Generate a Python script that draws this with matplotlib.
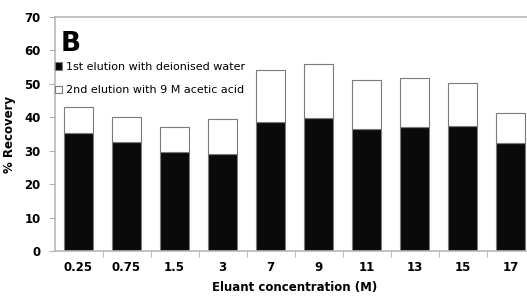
import matplotlib.pyplot as plt
import numpy as np

concentrations = ["0.25", "0.75", "1.5", "3", "7", "9", "11", "13", "15", "17"]
first_elution = [35.2, 32.7, 29.7, 28.9, 38.7, 39.7, 36.5, 37.2, 37.4, 32.2]   # deionised water
total_recovery = [43.0, 40.0, 37.0, 39.4, 54.0, 55.8, 51.3, 51.8, 50.4, 41.2]
second_elution = [t - f for t, f in zip(total_recovery, first_elution)]       # 9 M acetic acid

plt.rcParams['font.family'] = ['DejaVu Sans']

fig = plt.figure(figsize=(5.27, 2.98), dpi=100)
# axes run a little past the right edge, as in the cropped original
ax = fig.add_axes([54.5 / 527, 47 / 298, 480 / 527, 234 / 298])

x = np.arange(len(concentrations))
ax.bar(x, first_elution, width=0.6, color='#0a0a0a', edgecolor='#7a7a7a', linewidth=0.8,
       label='1st elution with deionised water')
ax.bar(x, second_elution, width=0.6, bottom=first_elution, color='white', edgecolor='#7a7a7a',
       linewidth=0.8, label='2nd elution with 9 M acetic acid')

ax.set_xlim(-0.5, len(concentrations) - 0.5)
ax.set_ylim(0, 70)
ax.set_yticks(range(0, 71, 10))
ax.set_xticks(x)
ax.set_xticklabels(concentrations, fontweight='bold', fontsize=8.5)
ax.set_xticks(np.arange(0.5, len(concentrations) - 0.5, 1), minor=True)
ax.tick_params(axis='x', which='major', length=0, pad=7)
ax.tick_params(axis='x', which='minor', length=4, color='#b0b0b0', direction='out')
ax.tick_params(axis='y', length=4, color='#b0b0b0', pad=6)
for lbl in ax.get_yticklabels():
    lbl.set_fontweight('bold')
    lbl.set_fontsize(8.5)

for side in ['left', 'top', 'bottom', 'right']:
    ax.spines[side].set_color('#b8b8b8')
    ax.spines[side].set_linewidth(1.2)

ax.set_xlabel('Eluant concentration (M)', fontweight='bold', fontsize=8.5, labelpad=5)
ax.set_ylabel('% Recovery', fontweight='bold', fontsize=8.5, labelpad=6)

ax.text(0.012, 0.94, 'B', transform=ax.transAxes, fontsize=19, fontweight='bold',
        va='top', ha='left')
ax.legend(loc='upper left', bbox_to_anchor=(-0.008, 0.827), frameon=False, fontsize=8,
          handlelength=0.6, handleheight=0.6, handletextpad=0.35, labelspacing=1.2,
          borderaxespad=0)

fig.savefig('out.png', dpi=100)
